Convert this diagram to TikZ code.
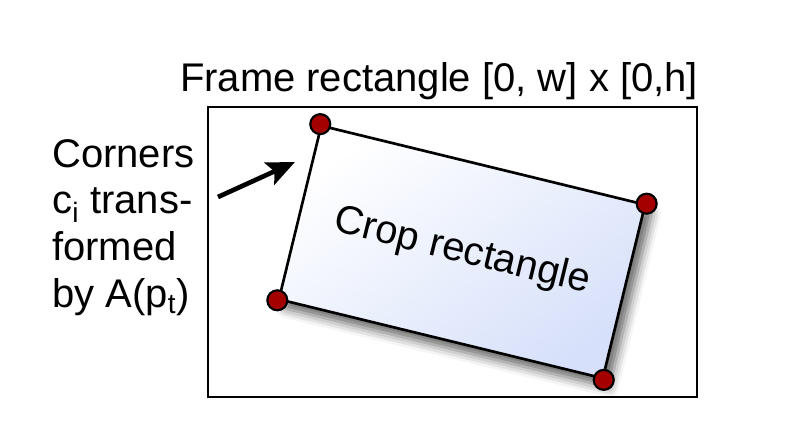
\documentclass[tikz,border=0pt]{standalone}
\usepackage{fontspec}
\setmainfont{Liberation Sans}
\usetikzlibrary{arrows.meta,shadows.blur}
\definecolor{cornerred}{RGB}{165,0,0}
\definecolor{cropblue}{RGB}{214,224,250}
\tikzset{
  lbl/.style={font=\fontsize{30}{35}\selectfont,inner sep=0pt},
  croprect/.style={draw,line width=2pt,minimum width=250pt,minimum height=134pt,inner sep=0pt,
    top color=white,bottom color=cropblue,shading angle=35,
    blur shadow={shadow xshift=5pt,shadow yshift=-7pt,shadow blur radius=7pt,shadow opacity=60}},
  corner/.style={circle,draw,line width=1.6pt,fill=cornerred,minimum size=15pt,inner sep=0pt},
  arr/.style={-{Stealth[length=21pt,width=18pt,inset=4pt]},line width=3.5pt}
}
\begin{document}
\begin{tikzpicture}[x=0.75pt,y=0.75pt]
\useasboundingbox (0,0) rectangle (801,436);
% frame
\draw[line width=1.6pt] (208,39) rectangle (697,329);
\node[lbl,anchor=base] (title) at (439,344) {Frame rectangle [0, w] x [0,h]};

% crop rectangle with its corners
\node[croprect,lbl,rotate=-13.7] (crop) at (462,184) {Crop rectangle};
\node[corner] (c1) at (crop.north west) {};
\node[corner] (c2) at (crop.north east) {};
\node[corner] (c3) at (crop.south east) {};
\node[corner] (c4) at (crop.south west) {};

\node[lbl,align=left,anchor=north west] (corners) at (52,297) {Corners\\c\textsubscript{i} trans-\\formed\\by A(p\textsubscript{t})};
\coordinate (tail) at (218,239);
\coordinate (tip) at (295,274);
\draw[arr] (tail) -- (tip);
\end{tikzpicture}
\end{document}
